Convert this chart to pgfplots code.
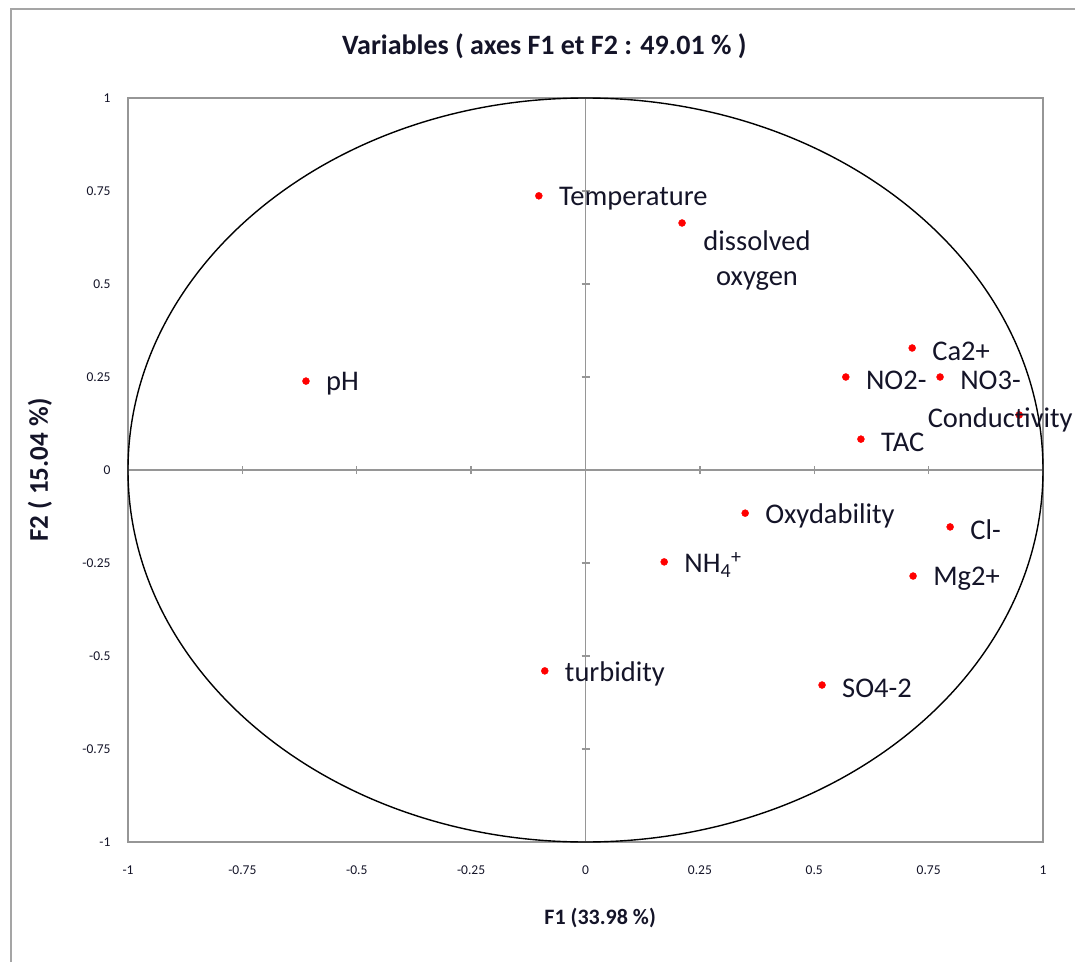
\documentclass[border=0pt]{standalone}
\usepackage{pgfplots}
\pgfplotsset{compat=1.18}
\usepackage{fontspec}
\setmainfont{Carlito}
\definecolor{framegray}{RGB}{165,165,165}
\definecolor{axgray}{RGB}{150,150,150}
\definecolor{ptred}{RGB}{255,0,0}
\definecolor{txt}{RGB}{20,20,40}

\pgfplotstableread{
x y label
-0.102 0.737 Temperature
-0.611 0.239 pH
0.714 0.328 Ca2+
0.569 0.250 NO2-
0.775 0.250 NO3-
0.602 0.083 TAC
0.349 -0.116 Oxydability
0.797 -0.153 Cl-
0.172 -0.247 {NH\textsubscript{4}\textsuperscript{+}}
0.716 -0.285 Mg2+
-0.089 -0.540 turbidity
0.517 -0.578 SO4-2
}\mainpts

\pgfplotstableread{
x y label
0.211 0.664 {dissolved\\oxygen}
}\doxpt

\pgfplotstableread{
x y label
0.948 0.148 Conductivity
}\condpt

\begin{document}
\begin{tikzpicture}
\path[use as bounding box] (0pt,0pt) rectangle (1075pt,962pt);
\draw[framegray, line width=1.5pt] (11pt,0pt) -- (11pt,953pt) -- (1075pt,953pt);
\begin{axis}[
  at={(128pt,120pt)}, anchor=south west,
  scale only axis, width=915pt, height=744pt,
  xmin=-1, xmax=1, ymin=-1, ymax=1,
  axis line style={axgray, line width=1.5pt},
  xtick={-1,-0.75,-0.5,-0.25,0,0.25,0.5,0.75,1},
  ytick={-1,-0.75,-0.5,-0.25,0,0.25,0.5,0.75,1},
  major tick length=0pt,
  /pgf/number format/assume math mode=true,
  tick label style={font=\fontsize{13.5}{15}\selectfont, text=txt},
  xticklabel style={yshift=-20pt},
  yticklabel style={xshift=-14pt},
  title={Variables ( axes F1 et F2 : 49.01 \% )},
  title style={font=\fontsize{28}{32}\selectfont\bfseries, text=txt, at={(axis description cs:0.455,1.061)}, anchor=center},
  xlabel={F1 (33.98 \%)},
  xlabel style={font=\fontsize{22}{26}\selectfont\bfseries, text=txt, at={(axis description cs:0.516,-0.1022)}, anchor=center},
  ylabel={F2 ( 15.04 \%)},
  ylabel style={font=\fontsize{27}{31}\selectfont\bfseries, text=txt, at={(axis description cs:-0.0962,0.5)}, anchor=center, rotate=0},
  clip=false,
  point meta=explicit symbolic,
  nodes near coords,
  every node near coord/.append style={font=\fontsize{28.5}{35}\selectfont, text=txt, anchor=west, inner sep=0pt, xshift=20pt, yshift=-3pt},
]
% center axes
\draw[axgray, line width=1.3pt] (axis cs:0,-1) -- (axis cs:0,1);
\draw[axgray, line width=1.3pt] (axis cs:-1,0) -- (axis cs:1,0);
\pgfplotsinvokeforeach{-0.75,-0.5,-0.25,0.25,0.5,0.75}{
  \draw[axgray, line width=1.3pt] ([xshift=-4pt]axis cs:0,#1) -- ([xshift=4pt]axis cs:0,#1);
  \draw[axgray, line width=1.3pt] ([yshift=-4pt]axis cs:#1,0) -- ([yshift=4pt]axis cs:#1,0);
}
% correlation circle
\draw[black, line width=1.4pt] (axis cs:0,0) ellipse [x radius=1, y radius=1];
\addplot[only marks, mark=*, mark size=3.5pt, ptred, mark options={draw=ptred, fill=ptred}]
  table[x=x, y=y, meta=label] {\mainpts};
\addplot[only marks, mark=*, mark size=3.5pt, ptred, mark options={draw=ptred, fill=ptred},
  every node near coord/.append style={anchor=center, align=center, xshift=55pt, yshift=-35pt}]
  table[x=x, y=y, meta=label] {\doxpt};
\addplot[only marks, mark=*, mark size=3.5pt, ptred, mark options={draw=ptred, fill=ptred},
  every node near coord/.append style={anchor=center, xshift=-39pt, yshift=-2pt}]
  table[x=x, y=y, meta=label] {\condpt};
\end{axis}
\end{tikzpicture}
\end{document}
